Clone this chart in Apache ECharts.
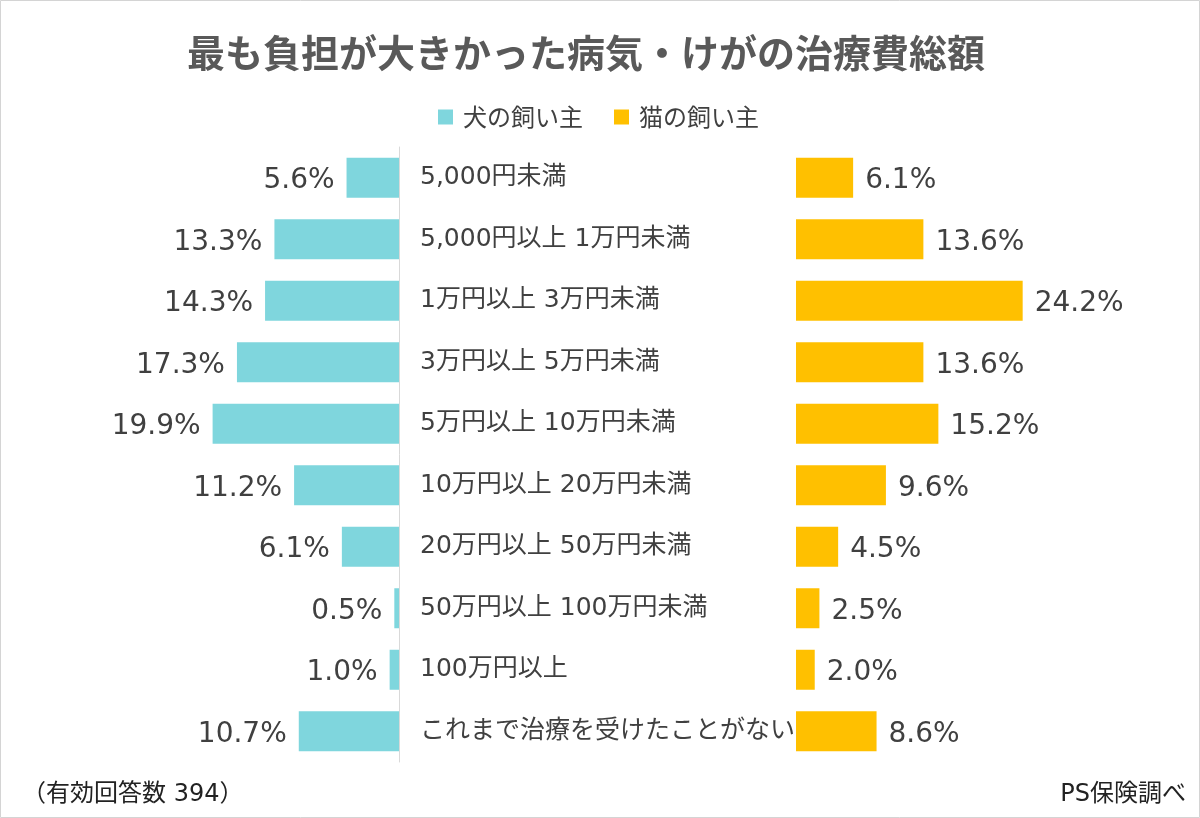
<!DOCTYPE html>
<html>
<head>
<meta charset="utf-8">
<script src="https://cdn.jsdelivr.net/npm/echarts@6/dist/echarts.min.js"></script>
<style>
  html, body { margin: 0; padding: 0; background: #fff; }
  #main { width: 1200px; height: 818px; }
</style>
</head>
<body>
<div id="main"></div>
<script>
// 治療費の区分
const categories = [
  '5,000円未満',
  '5,000円以上 1万円未満',
  '1万円以上 3万円未満',
  '3万円以上 5万円未満',
  '5万円以上 10万円未満',
  '10万円以上 20万円未満',
  '20万円以上 50万円未満',
  '50万円以上 100万円未満',
  '100万円以上',
  'これまで治療を受けたことがない'
];
// 犬の飼い主 (%)
const dogValues = [5.6, 13.3, 14.3, 17.3, 19.9, 11.2, 6.1, 0.5, 1.0, 10.7];
// 猫の飼い主 (%)
const catValues = [6.1, 13.6, 24.2, 13.6, 15.2, 9.6, 4.5, 2.5, 2.0, 8.6];

const FONT = "'DejaVu Sans', 'Noto Sans CJK JP', sans-serif";
const TEXT = '#404040';

let myChart = echarts.init(document.getElementById('main'));
let option = {
  backgroundColor: '#fff',
  textStyle: { fontFamily: FONT },
  title: {
    text: '最も負担が大きかった病気・けがの治療費総額',
    left: 581,
    top: 29,
    textAlign: 'center',
    textStyle: { fontSize: 38, fontWeight: 'bold', color: '#595959', fontFamily: "'Noto Sans CJK JP', sans-serif" }
  },
  legend: {
    data: ['犬の飼い主', '猫の飼い主'],
    top: 100,
    left: 433,
    icon: 'rect',
    itemWidth: 15,
    itemHeight: 15,
    itemGap: 31,
    textStyle: { fontSize: 24, color: TEXT, padding: [0, 0, 0, 5], fontFamily: "'Noto Sans CJK JP', sans-serif" }
  },
  grid: [
    { left: 118, width: 281, top: 147, height: 615 },
    { left: 796, width: 281, top: 147, height: 615 }
  ],
  xAxis: [
    { gridIndex: 0, type: 'value', min: 0, max: 30, inverse: true, show: false },
    { gridIndex: 1, type: 'value', min: 0, max: 30, show: false }
  ],
  yAxis: [
    {
      gridIndex: 0, type: 'category', data: categories, inverse: true, position: 'right',
      axisLine: { show: true, lineStyle: { color: '#d9d9d9', width: 1 } },
      axisTick: { show: false }, axisLabel: { show: false }
    },
    {
      gridIndex: 1, type: 'category', data: categories, inverse: true,
      axisLine: { show: false }, axisTick: { show: false },
      axisLabel: {
        show: true, align: 'left', margin: 376, fontSize: 25, color: TEXT,
        verticalAlign: 'middle', lineHeight: 25, padding: [0, 0, 6, 0]
      }
    }
  ],
  series: [
    {
      name: '犬の飼い主', type: 'bar', xAxisIndex: 0, yAxisIndex: 0,
      data: dogValues, barWidth: 40,
      itemStyle: { color: '#7fd6dd' },
      label: {
        show: true, position: 'left', distance: 12, fontSize: 28, color: TEXT,
        offset: [0, 3],
        formatter: p => p.value.toFixed(1) + '%'
      }
    },
    {
      name: '猫の飼い主', type: 'bar', xAxisIndex: 1, yAxisIndex: 1,
      data: catValues, barWidth: 40,
      itemStyle: { color: '#ffc000' },
      label: {
        show: true, position: 'right', distance: 12, fontSize: 28, color: TEXT,
        offset: [0, 3],
        formatter: p => p.value.toFixed(1) + '%'
      }
    }
  ],
  graphic: [
    {
      type: 'rect', shape: { x: 0.5, y: 0.5, width: 1199, height: 817 },
      style: { fill: 'none', stroke: '#d4d4d4', lineWidth: 1 }, silent: true
    },
    {
      type: 'text', left: 22, top: 783,
      style: { text: '（有効回答数 394）', fontSize: 24, fill: '#222', fontFamily: FONT }
    },
    {
      type: 'text', right: 14, top: 783,
      style: { text: 'PS保険調べ', fontSize: 24, fill: '#222', fontFamily: FONT }
    }
  ]
};
myChart.setOption(option);
</script>
</body>
</html>
